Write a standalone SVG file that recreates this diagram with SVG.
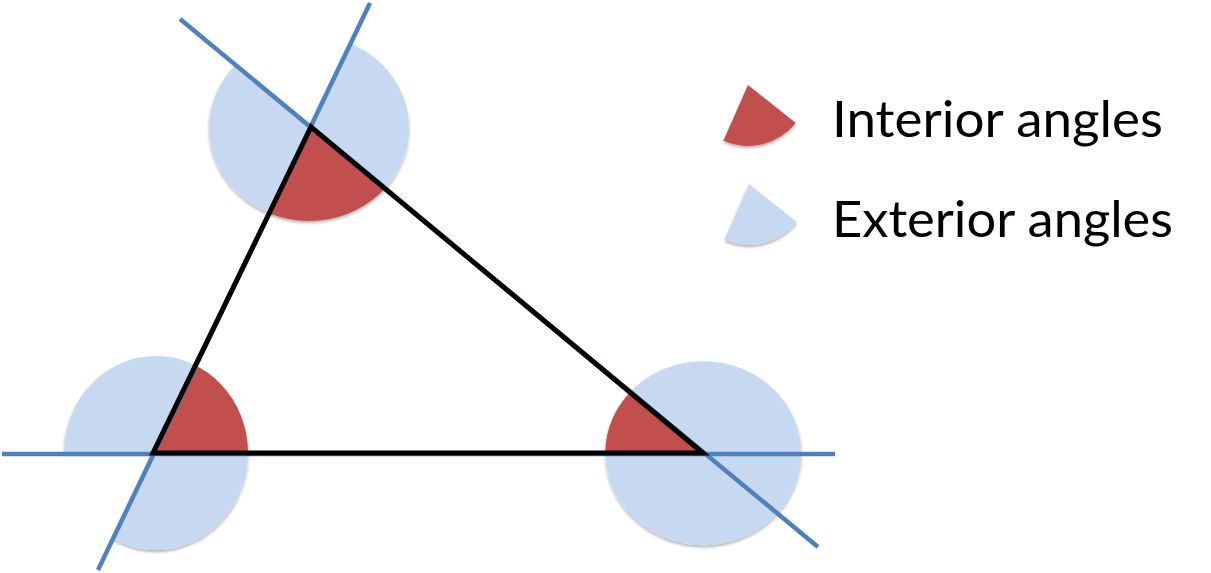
<svg xmlns="http://www.w3.org/2000/svg" width="1211" height="573" viewBox="0 0 1211 573">
<style>
.ext{fill:#C6D9F1}
.int{fill:#C0504D}
.bl{stroke:#4F81BD;stroke-width:4.5;fill:none;stroke-linecap:butt}
.tri{stroke:#000;stroke-width:5;fill:none;stroke-linejoin:miter}
.lbl{font-family:Lato,"Open Sans","DejaVu Sans",sans-serif;font-size:51px;fill:#000}
</style>
<defs>
<filter id="sh" x="-20%" y="-20%" width="140%" height="150%">
<feDropShadow dx="0" dy="2" stdDeviation="1.6" flood-color="#000" flood-opacity="0.3"/>
</filter>
<clipPath id="cAi"><polygon points="311,127 180.2,397 541.7,318.7"/></clipPath>
<clipPath id="cAe"><polygon points="311,127 80.3,-64.7 180.2,397"/><polygon points="311,127 541.7,318.7 441.8,-143"/></clipPath>
<clipPath id="cBi"><polygon points="153,453 283.8,183 453,453"/></clipPath>
<clipPath id="cBe"><polygon points="153,453 283.8,183 -147,453"/><polygon points="153,453 453,453 22.2,723"/></clipPath>
<clipPath id="cCi"><polygon points="703,453 403,453 472.3,261.3"/></clipPath>
</defs>
<rect width="1211" height="573" fill="#fff"/>
<g id="vertex-A" filter="url(#sh)">
<ellipse class="ext" cx="309" cy="128" rx="100" ry="93" clip-path="url(#cAe)"/>
<ellipse class="int" cx="309" cy="128" rx="100" ry="93" clip-path="url(#cAi)"/>
</g>
<g id="vertex-B" filter="url(#sh)">
<ellipse class="ext" cx="156" cy="453" rx="92" ry="97" clip-path="url(#cBe)"/>
<ellipse class="int" cx="156" cy="453" rx="92" ry="97" clip-path="url(#cBi)"/>
</g>
<g id="vertex-C" filter="url(#sh)">
<ellipse class="ext" cx="703.3" cy="453.3" rx="98" ry="92"/>
<ellipse class="int" cx="703.3" cy="453.3" rx="98" ry="92" clip-path="url(#cCi)"/>
</g>
<g id="connectors">
<line class="bl" x1="2" y1="454" x2="835" y2="454"/>
<line class="bl" x1="370" y1="3" x2="98" y2="570"/>
<line class="bl" x1="180" y1="19" x2="818" y2="547"/>
<polygon id="triangle" class="tri" points="311,127 153,453 703,453"/>
</g>
<g id="legend-interior">
<path class="int" filter="url(#sh)" d="M748,85 L795.8,122.9 A61,61 0 0 1 723.4,140.8 Z"/>
<text class="lbl" x="832" y="136.7" textLength="331" lengthAdjust="spacingAndGlyphs">Interior angles</text>
</g>
<g id="legend-exterior">
<path class="ext" filter="url(#sh)" d="M749,184 L796.8,221.9 A61,61 0 0 1 724.4,239.8 Z"/>
<text class="lbl" x="832" y="236.7" textLength="341" lengthAdjust="spacingAndGlyphs">Exterior angles</text>
</g>
</svg>
